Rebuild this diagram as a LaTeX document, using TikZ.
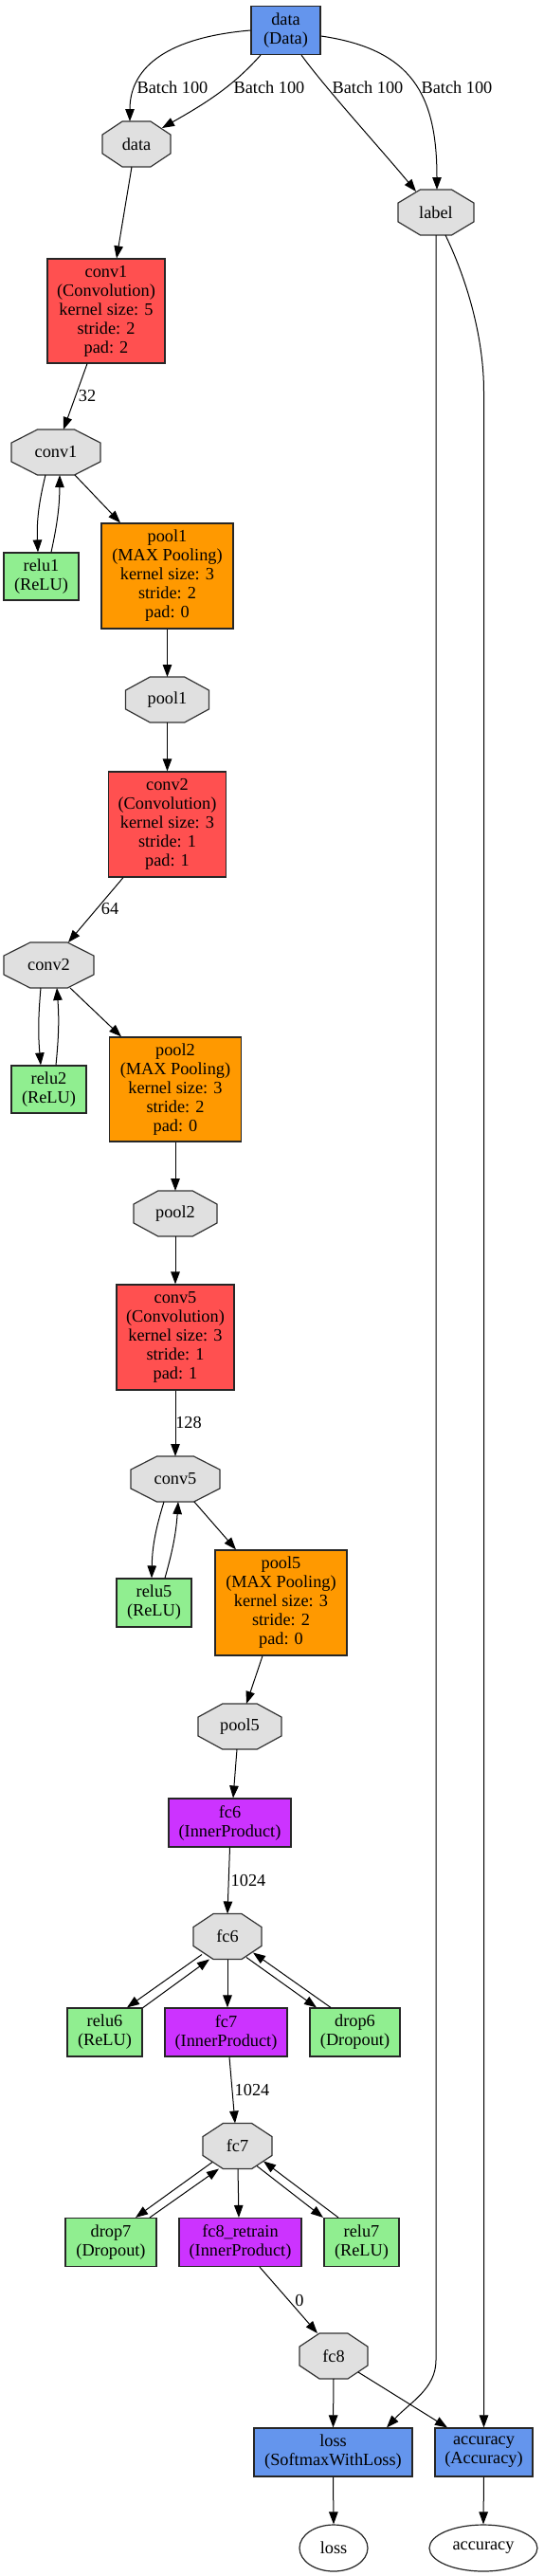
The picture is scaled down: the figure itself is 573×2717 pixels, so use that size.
\documentclass[tikz,border=0pt]{standalone}
\usepackage{fontspec}
\setmainfont{Liberation Serif}
\usetikzlibrary{shapes.geometric,arrows.meta,backgrounds,calc}
\definecolor{cblue}{HTML}{6495ED}
\definecolor{cred}{HTML}{FF5050}
\definecolor{corange}{HTML}{FF9900}
\definecolor{cpurple}{HTML}{CC33FF}
\definecolor{cgreen}{HTML}{90EE90}
\definecolor{cgrey}{HTML}{E0E0E0}
\begin{document}
\begin{tikzpicture}[x=1pt,y=1pt,
  font=\fontsize{18.3}{20}\selectfont,
  layer/.style={draw=black!85, line width=1.2pt, align=center, inner sep=0pt},
  blob/.style={draw=none, inner sep=0pt, outer sep=0pt, minimum height=48pt},
  outp/.style={ellipse, draw=black!85, line width=1.2pt, inner sep=0pt, minimum height=49pt},
  edge/.style={-{Triangle[length=13pt,width=9.5pt]}, line width=1pt, black},
  lbl/.style={inner sep=0pt}]
\begin{scope}[on background layer]
\fill[white] (0,0) rectangle (573,-2717);
\end{scope}
\useasboundingbox (0,0) rectangle (573,-2717);

% layers and blobs
\node[layer, fill=cblue, minimum width=73pt, minimum height=51pt] (dataL) at (301.5,-32) {data\\(Data)};
\node[blob, minimum width=72pt] (dataB) at (144,-152) {data};
\node[blob, minimum width=80pt] (labelB) at (460,-224) {label};
\node[layer, fill=cred, minimum width=124pt, minimum height=110pt] (conv1L) at (112,-328) {conv1\\(Convolution)\\kernel size: 5\\stride: 2\\pad: 2};
\node[blob, minimum width=94pt] (conv1B) at (59,-477) {conv1};
\node[layer, fill=cgreen, minimum width=79pt, minimum height=50pt] (relu1) at (43.5,-608) {relu1\\(ReLU)};
\node[layer, fill=corange, minimum width=139pt, minimum height=111pt] (pool1L) at (176.5,-607.5) {pool1\\(MAX Pooling)\\kernel size: 3\\stride: 2\\pad: 0};
\node[blob, minimum width=88pt] (pool1B) at (176.5,-738) {pool1};
\node[layer, fill=cred, minimum width=124pt, minimum height=111pt] (conv2L) at (176.5,-869.5) {conv2\\(Convolution)\\kernel size: 3\\stride: 1\\pad: 1};
\node[blob, minimum width=95pt] (conv2B) at (51.5,-1018) {conv2};
\node[layer, fill=cgreen, minimum width=79pt, minimum height=50pt] (relu2) at (51.5,-1149) {relu2\\(ReLU)};
\node[layer, fill=corange, minimum width=139pt, minimum height=110pt] (pool2L) at (185,-1149) {pool2\\(MAX Pooling)\\kernel size: 3\\stride: 2\\pad: 0};
\node[blob, minimum width=88pt] (pool2B) at (185,-1280) {pool2};
\node[layer, fill=cred, minimum width=124pt, minimum height=111pt] (conv5L) at (185,-1410.5) {conv5\\(Convolution)\\kernel size: 3\\stride: 1\\pad: 1};
\node[blob, minimum width=94pt] (conv5B) at (185,-1560) {conv5};
\node[layer, fill=cgreen, minimum width=79pt, minimum height=51pt] (relu5) at (162.5,-1690.5) {relu5\\(ReLU)};
\node[layer, fill=corange, minimum width=139pt, minimum height=111pt] (pool5L) at (296.5,-1690.5) {pool5\\(MAX Pooling)\\kernel size: 3\\stride: 2\\pad: 0};
\node[blob, minimum width=88pt] (pool5B) at (253,-1821) {pool5};
\node[layer, fill=cpurple, minimum width=129pt, minimum height=51pt] (fc6L) at (242.5,-1922.5) {fc6\\(InnerProduct)};
\node[blob, minimum width=72pt] (fc6B) at (240,-2042.5) {fc6};
\node[layer, fill=cgreen, minimum width=79pt, minimum height=51pt] (relu6) at (110.5,-2143.5) {relu6\\(ReLU)};
\node[layer, fill=cpurple, minimum width=129pt, minimum height=51pt] (fc7L) at (238.5,-2143.5) {fc7\\(InnerProduct)};
\node[layer, fill=cgreen, minimum width=95pt, minimum height=51pt] (drop6) at (374.5,-2143.5) {drop6\\(Dropout)};
\node[blob, minimum width=73pt] (fc7B) at (250.5,-2263.5) {fc7};
\node[layer, fill=cgreen, minimum width=96pt, minimum height=51pt] (drop7) at (117,-2365) {drop7\\(Dropout)};
\node[layer, fill=cpurple, minimum width=129pt, minimum height=51pt] (fc8L) at (253.5,-2365) {fc8\_retrain\\(InnerProduct)};
\node[layer, fill=cgreen, minimum width=79pt, minimum height=51pt] (relu7) at (381.5,-2365) {relu7\\(ReLU)};
\node[blob, minimum width=72pt] (fc8B) at (352,-2485) {fc8};
\node[layer, fill=cblue, minimum width=167pt, minimum height=51pt] (lossL) at (351.5,-2586.5) {loss\\(SoftmaxWithLoss)};
\node[layer, fill=cblue, minimum width=103pt, minimum height=51pt] (accL) at (510.5,-2586.5) {accuracy\\(Accuracy)};
\node[outp, minimum width=72pt] (lossO) at (352,-2687.5) {loss};
\node[outp, minimum width=114pt] (accO) at (510,-2687.5) {accuracy};

% octagon outlines for blobs
\begin{scope}[on background layer]
\foreach \n in {dataB,labelB,conv1B,pool1B,conv2B,pool2B,conv5B,pool5B,fc6B,fc7B,fc8B}{
  \filldraw[fill=cgrey, draw=black!80, line width=1.2pt]
    ($(\n.north west)!0.293!(\n.north east)$) -- ($(\n.north east)!0.293!(\n.north west)$) --
    ($(\n.north east)!0.293!(\n.south east)$) -- ($(\n.south east)!0.293!(\n.north east)$) --
    ($(\n.south east)!0.293!(\n.south west)$) -- ($(\n.south west)!0.293!(\n.south east)$) --
    ($(\n.south west)!0.293!(\n.north west)$) -- ($(\n.north west)!0.293!(\n.south west)$) -- cycle;
}
\end{scope}

% edge labels
\node[lbl] (b1) at (182,-92) {Batch 100};
\node[lbl] (b2) at (284,-92) {Batch 100};
\node[lbl] (b3) at (388,-92) {Batch 100};
\node[lbl] (b4) at (482,-92) {Batch 100};
\node[lbl] (n32) at (92,-418) {32};
\node[lbl] (n64) at (116,-959) {64};
\node[lbl] (n128) at (199,-1500) {128};
\node[lbl] (n1024a) at (262,-1983) {1024};
\node[lbl] (n1024b) at (266,-2204) {1024};
\node[lbl] (n0) at (316,-2426) {0};

% connectors
\draw[edge] (dataL.west) .. controls (170,-40) and (137,-75) .. ([xshift=-7pt]dataB.north);
\draw[edge] ([xshift=-26.5pt]dataL.south) .. controls (245,-92) and (215,-110) .. ([xshift=27pt,yshift=-7pt]dataB.north);
\draw[edge] ([xshift=16.5pt]dataL.south) .. controls (345,-95) and (400,-155) .. ([xshift=-21pt,yshift=-2pt]labelB.north);
\draw[edge] ([yshift=-6pt]dataL.east) .. controls (435,-52) and (461,-100) .. ([xshift=1pt]labelB.north);

\draw[edge] ([xshift=-5pt]dataB.south) -- ([xshift=11pt]conv1L.north);
\draw[edge] ([xshift=-20pt]conv1L.south) -- ([xshift=8pt]conv1B.north);
\draw[edge] ([xshift=-11pt]conv1B.south) to[bend right=8] ([xshift=-3.5pt]relu1.north);
\draw[edge] ([xshift=10.5pt]relu1.north) to[bend right=6] ([xshift=4pt]conv1B.south);
\draw[edge] ([xshift=20pt]conv1B.south) -- ([xshift=-49.5pt]pool1L.north);
\draw[edge] (pool1L.south) -- (pool1B.north);
\draw[edge] (pool1B.south) -- (conv2L.north);
\draw[edge] ([xshift=-46.5pt]conv2L.south) -- ([xshift=20.5pt]conv2B.north);
\draw[edge] ([xshift=-8.5pt]conv2B.south) to[bend right=5] ([xshift=-8.5pt]relu2.north);
\draw[edge] ([xshift=7.5pt]relu2.north) to[bend right=5] ([xshift=8.5pt]conv2B.south);
\draw[edge] ([xshift=22.5pt]conv2B.south) -- ([xshift=-57pt]pool2L.north);
\draw[edge] (pool2L.south) -- (pool2B.north);
\draw[edge] (pool2B.south) -- (conv5L.north);
\draw[edge] (conv5L.south) -- (conv5B.north);
\draw[edge] ([xshift=-12pt]conv5B.south) to[bend right=8] ([xshift=-2.5pt]relu5.north);
\draw[edge] ([xshift=11.5pt]relu5.north) to[bend right=6] ([xshift=3pt]conv5B.south);
\draw[edge] ([xshift=20pt]conv5B.south) -- ([xshift=-47.5pt]pool5L.north);
\draw[edge] ([xshift=-19.5pt]pool5L.south) -- ([xshift=7pt]pool5B.north);
\draw[edge] ([xshift=-3pt]pool5B.south) -- ([xshift=3.5pt]fc6L.north);
\draw[edge] (fc6L.south) -- (fc6B.north);

\draw[edge] ([xshift=-27pt,yshift=5pt]fc6B.south) -- ([xshift=23.5pt]relu6.north);
\draw[edge] ([xshift=40.5pt]relu6.north) -- ([xshift=-19pt]fc6B.south);
\draw[edge] (fc6B.south) -- ([xshift=1.5pt]fc7L.north);
\draw[edge] ([xshift=20pt,yshift=2pt]fc6B.south) -- ([xshift=-40.5pt]drop6.north);
\draw[edge] ([xshift=-25.5pt]drop6.north) -- ([xshift=27pt,yshift=7pt]fc6B.south);
\draw[edge] ([xshift=3.5pt]fc7L.south) -- ([xshift=-2.5pt]fc7B.north);

\draw[edge] ([xshift=-26.5pt,yshift=7pt]fc7B.south) -- ([xshift=26pt]drop7.north);
\draw[edge] ([xshift=41pt]drop7.north) -- ([xshift=-19.5pt]fc7B.south);
\draw[edge] ([xshift=0.5pt]fc7B.south) -- ([xshift=-1.5pt]fc8L.north);
\draw[edge] ([xshift=20.5pt,yshift=3pt]fc7B.south) -- ([xshift=-40.5pt]relu7.north);
\draw[edge] ([xshift=-24.5pt]relu7.north) -- ([xshift=27.5pt,yshift=8pt]fc7B.south);
\draw[edge] ([xshift=20.5pt]fc8L.south) -- ([xshift=-17pt]fc8B.north);
\draw[edge] (fc8B.south) -- (lossL.north);
\draw[edge] ([xshift=26pt,yshift=7pt]fc8B.south) -- ([xshift=-38.5pt]accL.north);

\coordinate (lbturn) at ($(labelB.south |- lossL.north)+(0,71)$);
\draw[edge] (labelB.south) -- (lbturn) .. controls +(0,-30) and ([xshift=81.5pt,yshift=27pt]lossL.north) .. ([xshift=56.5pt]lossL.north);
\coordinate (acturn) at ($(accL.north |- labelB.south)+(0,-165)$);
\draw[edge] ([xshift=10pt]labelB.south) .. controls +(25,-52) and +(0,53) .. (acturn) -- (accL.north);

\draw[edge] (lossL.south) -- (lossO.north);
\draw[edge] (accL.south) -- (accO.north);
\end{tikzpicture}
\end{document}
